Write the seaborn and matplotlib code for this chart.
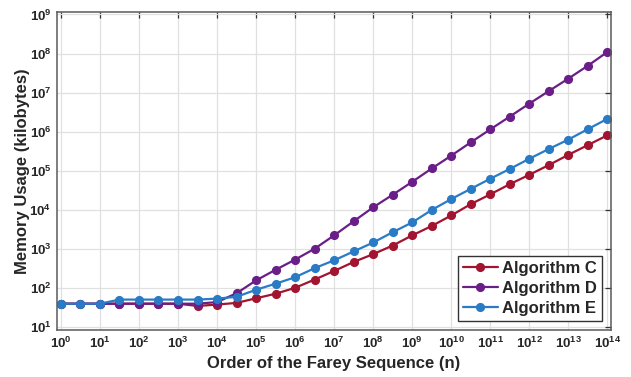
import numpy as np
import pandas as pd
import matplotlib
matplotlib.use("Agg")
import matplotlib.pyplot as plt
import seaborn as sns

# half-decade orders of the Farey sequence, 10^0 ... 10^14
log_n = [i * 0.5 for i in range(29)]

algo_c = [40, 40, 40, 40, 40, 40, 40, 35, 38, 42, 55, 72, 102, 166, 275, 468, 741,
          1230, 2240, 3890, 7240, 14100, 25100, 45700, 79400, 141000, 257000, 457000, 813000]
algo_d = [40, 40, 40, 40, 40, 40, 40, 40, 44, 74, 158, 295, 537, 1020, 2240, 5130, 11700,
          24500, 52500, 115000, 245000, 537000, 1.15e6, 2.45e6, 5.25e6, 1.1e7, 2.29e7, 4.9e7, 1.1e8]
algo_e = [40, 40, 40, 51, 51, 51, 51, 51, 54, 60, 91, 130, 190, 325, 515, 870, 1470,
          2700, 4800, 10000, 19000, 34700, 63000, 112000, 204000, 363000, 631000, 1.17e6, 2.14e6]

series_names = ["Algorithm C", "Algorithm D", "Algorithm E"]
colors = ["#A2142F", "#6A1E88", "#2A7BC6"]
x_ticks = list(range(0, 15))
y_ticks = list(range(1, 10))

sns.set_style("white")
plt.rcParams["font.family"] = ["Liberation Sans", "DejaVu Sans"]
plt.rcParams["mathtext.fontset"] = "custom"
plt.rcParams["mathtext.rm"] = "Liberation Sans:bold"
plt.rcParams["mathtext.bf"] = "Liberation Sans:bold"
plt.rcParams["mathtext.default"] = "bf"

n_vals = [10 ** v for v in log_n]
df = pd.concat([
    pd.DataFrame({"n": n_vals, "mem": vals, "alg": name})
    for name, vals in zip(series_names, [algo_c, algo_d, algo_e])
], ignore_index=True)

fig = plt.figure(figsize=(6.31, 3.77), dpi=100)
ax = fig.add_axes([0.0903, 0.1247, 0.968 - 0.0903, 0.968 - 0.1247])

sns.lineplot(data=df, x="n", y="mem", hue="alg", palette=colors, marker="o",
             markersize=6.6, markeredgewidth=0, linewidth=1.6, ax=ax, legend=True)

ax.set_xscale("log")
ax.set_yscale("log")
ax.set_xlim(10 ** -0.1, 10 ** 14.085)
ax.set_ylim(10 ** 0.93, 10 ** 9.06)
ax.set_xticks([10 ** t for t in x_ticks])
ax.set_xticklabels([f"$10^{{{t}}}$" for t in x_ticks])
ax.set_yticks([10 ** t for t in y_ticks])
ax.set_yticklabels([f"$10^{{{t}}}$" for t in y_ticks])
ax.minorticks_off()

ax.grid(True, color="#e0e0e0", linewidth=0.9)
ax.set_axisbelow(True)
for s in ax.spines.values():
    s.set_color("#5a5a5a")
    s.set_linewidth(1.1)
ax.tick_params(axis="both", which="major", direction="in", length=4, width=0.9,
               color="#333333", top=True, right=True, labelsize=9.5, pad=4,
               labelcolor="#262626")

ax.set_xlabel("Order of the Farey Sequence (n)", fontsize=12, fontweight="bold",
              color="#262626", labelpad=4)
ax.set_ylabel("Memory Usage (kilobytes)", fontsize=12, fontweight="bold",
              color="#262626", labelpad=-0.5)

leg = ax.legend(loc="lower right", frameon=True, fancybox=False,
                prop={"weight": "bold", "size": 12}, borderpad=0.3, labelspacing=0.3,
                handlelength=2.1, handletextpad=0.25, borderaxespad=0.55)
leg.get_frame().set_edgecolor("#333333")
leg.get_frame().set_linewidth(1.0)
leg.get_frame().set_alpha(1)

fig.savefig("out.png", dpi=100)
